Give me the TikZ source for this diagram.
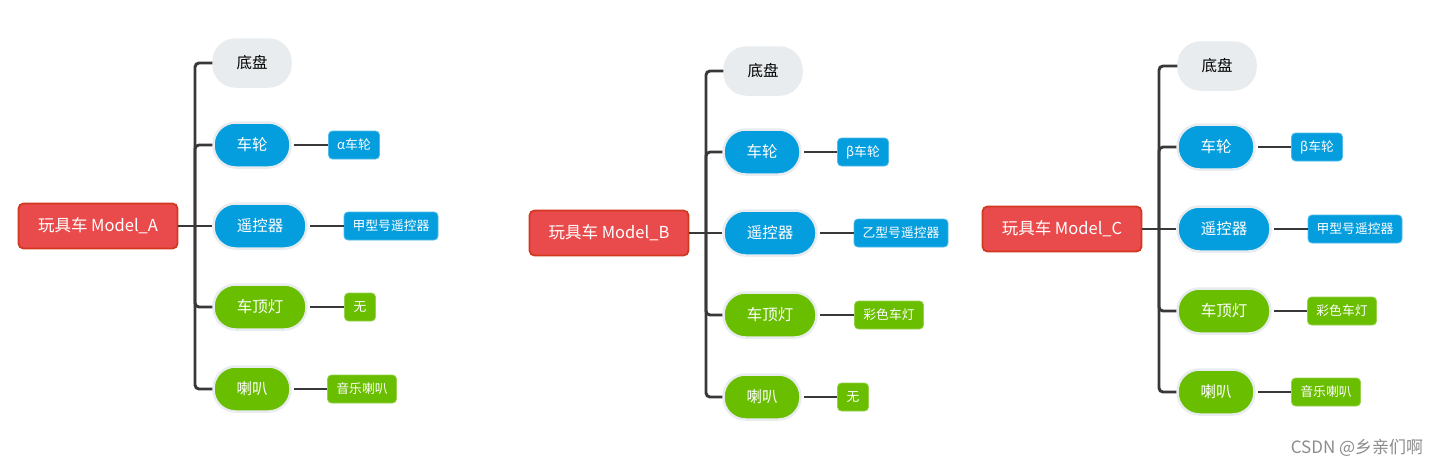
\documentclass[tikz,border=0pt]{standalone}
\usepackage{fontspec}
\setmainfont{Noto Sans CJK SC}
\definecolor{cblue}{HTML}{049EDF}
\definecolor{cgreen}{HTML}{6ABE00}
\definecolor{cred}{HTML}{E94B4C}
\definecolor{credb}{HTML}{D1381F}
\definecolor{cgray}{HTML}{E8ECEF}
\definecolor{cline}{HTML}{383838}
\tikzset{
  root/.style={rectangle, rounded corners=5pt, fill=cred, draw=credb, line width=1.8pt,
    text=white, font=\fontsize{16.5}{19}\selectfont, minimum width=159pt, minimum height=45pt, inner sep=0pt},
  kid/.style={rectangle, rounded corners=22pt, draw=cgray, line width=2.5pt, text=white,
    font=\fontsize{15.5}{18}\selectfont, minimum height=45pt, inner sep=0pt},
  k2/.style={minimum width=77pt},
  k3/.style={minimum width=93pt},
  base/.style={kid, fill=cgray, text=black, minimum height=47pt},
  kb/.style={kid, fill=cblue},
  kg/.style={kid, fill=cgreen},
  leaf/.style={rectangle, rounded corners=4pt, text=white, line width=0.8pt,
    font=\fontsize{12.8}{15}\selectfont, minimum height=28pt, inner sep=0pt},
  lb/.style={leaf, fill=cblue, draw=cblue!70!white},
  lg/.style={leaf, fill=cgreen, draw=cgreen!70!white},
  conn/.style={draw=cline, line width=2.9pt},
  trunk/.style={conn, rounded corners=4pt},
}
\begin{document}
\begin{tikzpicture}[x=1pt,y=-1pt]
\useasboundingbox (0,0) rectangle (1441,467);

% ---------------- Model A ----------------
\node[root] (rA) at (98,226) {玩具车 Model\_A};
\coordinate (tA) at (195,226);
\node[base,k2] (a1) at (252,63) {底盘};
\node[kb,k2] (a2) at (252,145) {车轮};
\node[kb,k3] (a3) at (260,226) {遥控器};
\node[kg,k3] (a4) at (260,307) {车顶灯};
\node[kg,k2] (a5) at (252,389) {喇叭};
\node[lb,minimum width=51pt] (la2) at (354,145) {α车轮};
\node[lb,minimum width=94pt] (la3) at (391,226) {甲型号遥控器};
\node[lg,minimum width=31pt] (la4) at (360,307) {无};
\node[lg,minimum width=69pt] (la5) at (362,389) {音乐喇叭};
\draw[conn] (rA.east) -- (tA);
\draw[trunk] (tA) |- (a1.west);
\draw[trunk] (tA) |- (a2.west);
\draw[conn] (tA) -- (a3.west);
\draw[trunk] (tA) |- (a4.west);
\draw[trunk] (tA) |- (a5.west);
\draw[conn,shorten <=2pt] (a2.east) -- (la2.west);
\draw[conn,shorten <=2pt] (a3.east) -- (la3.west);
\draw[conn,shorten <=2pt] (a4.east) -- (la4.west);
\draw[conn,shorten <=2pt] (a5.east) -- (la5.west);

% ---------------- Model B ----------------
\node[root] (rB) at (609,233) {玩具车 Model\_B};
\coordinate (tB) at (706,233);
\node[base,k2] (b1) at (763,71) {底盘};
\node[kb,k2] (b2) at (762,152) {车轮};
\node[kb,k3] (b3) at (770,233) {遥控器};
\node[kg,k3] (b4) at (770,315) {车顶灯};
\node[kg,k2] (b5) at (762,397) {喇叭};
\node[lb,minimum width=51pt] (lb2) at (863,152) {β车轮};
\node[lb,minimum width=94pt] (lb3) at (901,233) {乙型号遥控器};
\node[lg,minimum width=69pt] (lb4) at (889,315) {彩色车灯};
\node[lg,minimum width=31pt] (lb5) at (853,397) {无};
\draw[conn] (rB.east) -- (tB);
\draw[trunk] (tB) |- (b1.west);
\draw[trunk] (tB) |- (b2.west);
\draw[conn] (tB) -- (b3.west);
\draw[trunk] (tB) |- (b4.west);
\draw[trunk] (tB) |- (b5.west);
\draw[conn,shorten <=2pt] (b2.east) -- (lb2.west);
\draw[conn,shorten <=2pt] (b3.east) -- (lb3.west);
\draw[conn,shorten <=2pt] (b4.east) -- (lb4.west);
\draw[conn,shorten <=2pt] (b5.east) -- (lb5.west);

% ---------------- Model C ----------------
\node[root] (rC) at (1062,229) {玩具车 Model\_C};
\coordinate (tC) at (1159,229);
\node[base,k2] (c1) at (1217,66) {底盘};
\node[kb,k2] (c2) at (1216,147) {车轮};
\node[kb,k3] (c3) at (1224,229) {遥控器};
\node[kg,k3] (c4) at (1224,311) {车顶灯};
\node[kg,k2] (c5) at (1216,392) {喇叭};
\node[lb,minimum width=51pt] (lc2) at (1317,147) {β车轮};
\node[lb,minimum width=94pt] (lc3) at (1355,229) {甲型号遥控器};
\node[lg,minimum width=69pt] (lc4) at (1342,311) {彩色车灯};
\node[lg,minimum width=69pt] (lc5) at (1326,392) {音乐喇叭};
\draw[conn] (rC.east) -- (tC);
\draw[trunk] (tC) |- (c1.west);
\draw[trunk] (tC) |- (c2.west);
\draw[conn] (tC) -- (c3.west);
\draw[trunk] (tC) |- (c4.west);
\draw[trunk] (tC) |- (c5.west);
\draw[conn,shorten <=2pt] (c2.east) -- (lc2.west);
\draw[conn,shorten <=2pt] (c3.east) -- (lc3.west);
\draw[conn,shorten <=2pt] (c4.east) -- (lc4.west);
\draw[conn,shorten <=2pt] (c5.east) -- (lc5.west);

% watermark
\node[text=black!45, font=\fontsize{17}{19}\selectfont, inner sep=0pt] (wm) at (1357,448) {CSDN @乡亲们啊};
\end{tikzpicture}
\end{document}
